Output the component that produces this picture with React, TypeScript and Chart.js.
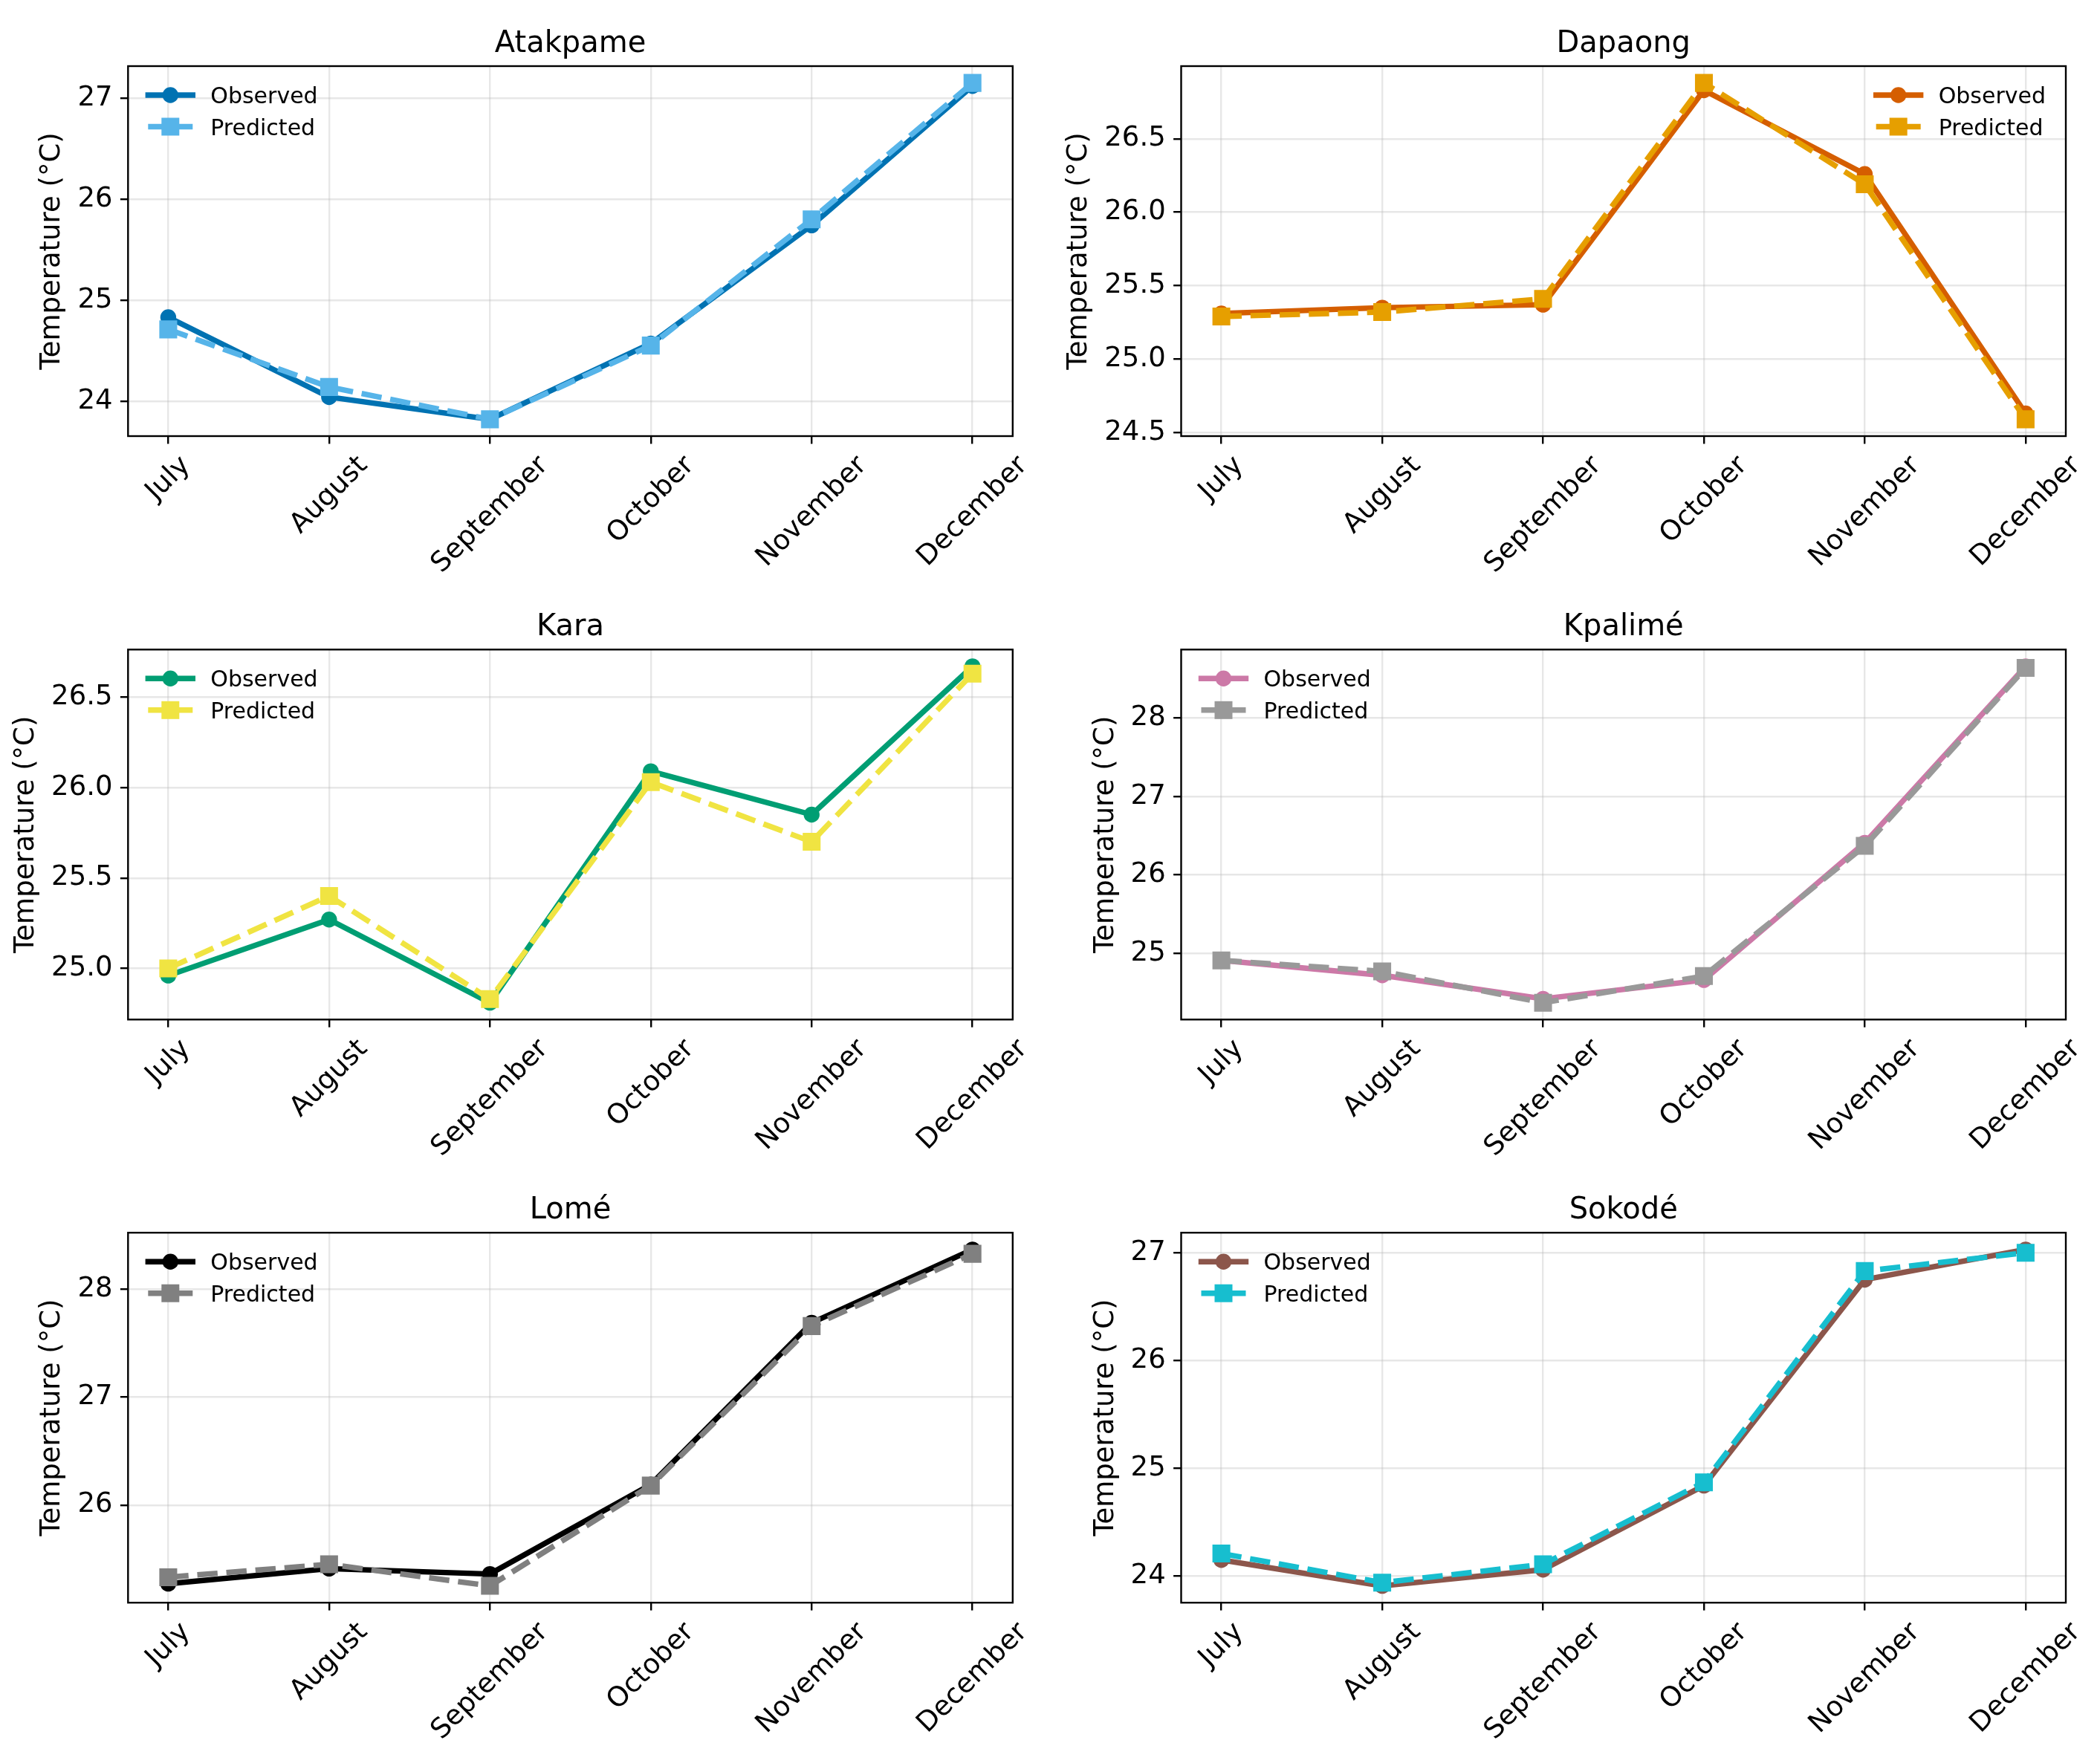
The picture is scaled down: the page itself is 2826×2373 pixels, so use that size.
import React, { useEffect, useRef } from "react";
import { Chart, registerables } from "chart.js";

Chart.register(...registerables);

// ---------------- data ----------------
const months = ["July", "August", "September", "October", "November", "December"];

const atakpameObserved = [24.83, 24.04, 23.82, 24.57, 25.74, 27.12];
const atakpamePredicted = [24.71, 24.14, 23.82, 24.55, 25.8, 27.15];
const atakpameTicks = ["24", "25", "26", "27"];

const dapaongObserved = [25.31, 25.35, 25.37, 26.83, 26.26, 24.63];
const dapaongPredicted = [25.29, 25.32, 25.41, 26.88, 26.19, 24.59];
const dapaongTicks = ["24.5", "25.0", "25.5", "26.0", "26.5"];

const karaObserved = [24.96, 25.27, 24.81, 26.09, 25.85, 26.67];
const karaPredicted = [25.0, 25.4, 24.83, 26.03, 25.7, 26.63];
const karaTicks = ["25.0", "25.5", "26.0", "26.5"];

const kpalimeObserved = [24.91, 24.72, 24.42, 24.66, 26.41, 28.66];
const kpalimePredicted = [24.91, 24.77, 24.37, 24.71, 26.37, 28.64];
const kpalimeTicks = ["25", "26", "27", "28"];

const lomeObserved = [25.27, 25.41, 25.36, 26.19, 27.69, 28.37];
const lomePredicted = [25.33, 25.45, 25.25, 26.18, 27.66, 28.33];
const lomeTicks = ["26", "27", "28"];

const sokodeObserved = [24.15, 23.91, 24.06, 24.84, 26.75, 27.03];
const sokodePredicted = [24.21, 23.94, 24.11, 24.87, 26.83, 27.0];
const sokodeTicks = ["24", "25", "26", "27"];

type PanelCfg = {
  title: string;
  observed: number[];
  predicted: number[];
  ticks: string[];
  obsColor: string;
  predColor: string;
  legend: "left" | "right";
  row: number;
  col: number;
};

const panels: PanelCfg[] = [
  { title: "Atakpame", observed: atakpameObserved, predicted: atakpamePredicted, ticks: atakpameTicks, obsColor: "#0072B2", predColor: "#56B4E9", legend: "left", row: 0, col: 0 },
  { title: "Dapaong", observed: dapaongObserved, predicted: dapaongPredicted, ticks: dapaongTicks, obsColor: "#D55E00", predColor: "#E69F00", legend: "right", row: 0, col: 1 },
  { title: "Kara", observed: karaObserved, predicted: karaPredicted, ticks: karaTicks, obsColor: "#009E73", predColor: "#F0E442", legend: "left", row: 1, col: 0 },
  { title: "Kpalimé", observed: kpalimeObserved, predicted: kpalimePredicted, ticks: kpalimeTicks, obsColor: "#CC79A7", predColor: "#999999", legend: "left", row: 1, col: 1 },
  { title: "Lomé", observed: lomeObserved, predicted: lomePredicted, ticks: lomeTicks, obsColor: "#000000", predColor: "#808080", legend: "left", row: 2, col: 0 },
  { title: "Sokodé", observed: sokodeObserved, predicted: sokodePredicted, ticks: sokodeTicks, obsColor: "#8C564B", predColor: "#17BECF", legend: "left", row: 2, col: 1 },
];

// ---------------- layout / style ----------------
const FONT = "DejaVu Sans";
const CELL_W = 1413;
const CELL_H = 791;
const COL_X = [172.3, 1589.5];
const ROW_Y = [89, 874.3, 1659.2];
const PLOT_W = 1190.5;
const PLOT_H = 498;
const TICK_PX = 37;
const LABEL_PX = 37;
const TITLE_PX = 40;
const LEGEND_PX = 30;
const TICK_LEN = 10.4;
const TICK_PAD = 10.4;
const LW = 7.4;
const SPINE_W = 2.4;
const GRID = "rgba(176,176,176,0.3)";

function Panel({ cfg }: { cfg: PanelCfg }) {
  const ref = useRef<HTMLCanvasElement | null>(null);
  const x0 = cfg.col * CELL_W;
  const y0 = cfg.row * CELL_H;

  useEffect(() => {
    const canvas = ref.current;
    if (!canvas) return;
    const all = cfg.observed.concat(cfg.predicted);
    const dMin = Math.min(...all);
    const dMax = Math.max(...all);
    const m = (dMax - dMin) * 0.05;
    const tickVals = cfg.ticks.map((t) => parseFloat(t));

    const left = COL_X[cfg.col] - x0;
    const top = ROW_Y[cfg.row] - y0;

    const decor = {
      id: "decor",
      afterDraw(chart: any) {
        const ctx: CanvasRenderingContext2D = chart.ctx;
        const a = chart.chartArea;
        const xs = chart.scales.x;
        ctx.save();
        // spines
        ctx.strokeStyle = "#000";
        ctx.lineWidth = SPINE_W;
        ctx.setLineDash([]);
        ctx.strokeRect(a.left, a.top, a.right - a.left, a.bottom - a.top);

        ctx.fillStyle = "#000";
        // title
        ctx.font = `${TITLE_PX}px "${FONT}"`;
        ctx.textAlign = "center";
        ctx.textBaseline = "alphabetic";
        ctx.fillText(cfg.title, (a.left + a.right) / 2, a.top - 19);

        // x tick labels (rotated 45, centered like matplotlib)
        ctx.font = `${TICK_PX}px "${FONT}"`;
        const lblTop = a.bottom + TICK_LEN + TICK_PAD;
        months.forEach((mName, i) => {
          const px = xs.getPixelForValue(i);
          const w = ctx.measureText(mName).width;
          const h = 0.968 * TICK_PX;
          const half = ((w + h) * Math.SQRT1_2) / 2;
          ctx.save();
          ctx.translate(px, lblTop + half);
          ctx.rotate(-Math.PI / 4);
          ctx.textAlign = "center";
          ctx.textBaseline = "alphabetic";
          ctx.fillText(mName, 0, 0.276 * TICK_PX);
          ctx.restore();
        });

        // y label
        const maxW = Math.max(...cfg.ticks.map((t) => ctx.measureText(t).width));
        const tickLeft = a.left - TICK_LEN - TICK_PAD - maxW;
        ctx.font = `${LABEL_PX}px "${FONT}"`;
        ctx.save();
        ctx.translate(tickLeft - 24, (a.top + a.bottom) / 2);
        ctx.rotate(-Math.PI / 2);
        ctx.textAlign = "center";
        ctx.textBaseline = "alphabetic";
        ctx.fillText("Temperature (°C)", 0, 0);
        ctx.restore();

        // legend
        ctx.font = `${LEGEND_PX}px "${FONT}"`;
        const names = ["Observed", "Predicted"];
        const textW = Math.max(...names.map((n) => ctx.measureText(n).width));
        const handleLen = 2 * LEGEND_PX;
        const hPad = 0.8 * LEGEND_PX;
        const lx =
          cfg.legend === "left"
            ? a.left + 0.9 * LEGEND_PX
            : a.right - 0.9 * LEGEND_PX - textW - hPad - handleLen;
        const rowsY = [a.top + 39, a.top + 81.5];
        rowsY.forEach((ry, k) => {
          const color = k === 0 ? cfg.obsColor : cfg.predColor;
          ctx.strokeStyle = color;
          ctx.fillStyle = color;
          ctx.lineWidth = LW;
          if (k === 0) {
            ctx.setLineDash([]);
            ctx.lineCap = "square";
          } else {
            ctx.setLineDash([3.7 * LW, 1.6 * LW]);
            ctx.lineCap = "butt";
          }
          ctx.beginPath();
          ctx.moveTo(lx, ry);
          ctx.lineTo(lx + handleLen, ry);
          ctx.stroke();
          ctx.setLineDash([]);
          const cx = lx + handleLen / 2;
          if (k === 0) {
            ctx.beginPath();
            ctx.arc(cx, ry, 10.7, 0, Math.PI * 2);
            ctx.fill();
          } else {
            ctx.fillRect(cx - 12, ry - 12, 24, 24);
          }
          ctx.fillStyle = "#000";
          ctx.textAlign = "left";
          ctx.textBaseline = "alphabetic";
          ctx.fillText(names[k], lx + handleLen + hPad, ry + 11);
        });
        ctx.restore();
      },
    };

    const gridOpts = {
      color: GRID,
      lineWidth: SPINE_W,
      drawTicks: true,
      tickColor: "#000",
      tickWidth: SPINE_W,
      tickLength: TICK_LEN,
    };

    const chart = new Chart(canvas, {
      type: "line",
      data: {
        datasets: [
          {
            label: "Observed",
            data: cfg.observed.map((y, i) => ({ x: i, y })),
            borderColor: cfg.obsColor,
            backgroundColor: cfg.obsColor,
            borderWidth: LW,
            borderCapStyle: "square",
            borderJoinStyle: "round",
            pointStyle: "circle",
            pointRadius: 10.7,
            pointBackgroundColor: cfg.obsColor,
            pointBorderWidth: 0,
            pointHoverRadius: 10.7,
            tension: 0,
            fill: false,
            order: 1,
          },
          {
            label: "Predicted",
            data: cfg.predicted.map((y, i) => ({ x: i, y })),
            borderColor: cfg.predColor,
            backgroundColor: cfg.predColor,
            borderWidth: LW,
            borderDash: [3.7 * LW, 1.6 * LW],
            borderCapStyle: "butt",
            borderJoinStyle: "round",
            pointStyle: "rect",
            pointRadius: 17,
            pointBackgroundColor: cfg.predColor,
            pointBorderWidth: 0,
            pointHoverRadius: 17,
            tension: 0,
            fill: false,
            order: 0,
          },
        ],
      } as any,
      options: {
        animation: false,
        responsive: false,
        devicePixelRatio: 1,
        events: [],
        layout: {
          padding: {
            left: 0,
            top: top,
            right: CELL_W - left - PLOT_W,
            bottom: CELL_H - top - PLOT_H - 1,
          },
        },
        plugins: {
          legend: { display: false },
          title: { display: false },
          tooltip: { enabled: false },
        },
        scales: {
          x: {
            type: "linear",
            min: -0.25,
            max: 5.25,
            afterBuildTicks: (s: any) => {
              s.ticks = months.map((_, i) => ({ value: i }));
            },
            afterFit: (s: any) => {
              s.height = 1;
            },
            ticks: { display: false },
            grid: gridOpts,
            border: { display: false },
          },
          y: {
            type: "linear",
            min: dMin - m,
            max: dMax + m,
            afterBuildTicks: (s: any) => {
              s.ticks = tickVals.map((v) => ({ value: v }));
            },
            afterFit: (s: any) => {
              s.width = left;
            },
            ticks: {
              autoSkip: false,
              padding: TICK_PAD,
              color: "#000",
              font: { family: FONT, size: TICK_PX },
              callback: (_v: any, idx: number) => cfg.ticks[idx],
            },
            grid: gridOpts,
            border: { display: false },
          },
        },
      } as any,
      plugins: [decor as any],
    });
    return () => chart.destroy();
  }, [cfg]);

  return (
    <canvas
      ref={ref}
      width={CELL_W}
      height={CELL_H}
      style={{ position: "absolute", left: x0, top: y0, width: CELL_W, height: CELL_H }}
    />
  );
}

export default function App() {
  return (
    <div
      style={{
        position: "absolute",
        left: 0,
        top: 0,
        width: CELL_W * 2,
        height: CELL_H * 3,
        background: "#ffffff",
      }}
    >
      {panels.map((p) => (
        <Panel key={p.title} cfg={p} />
      ))}
    </div>
  );
}
